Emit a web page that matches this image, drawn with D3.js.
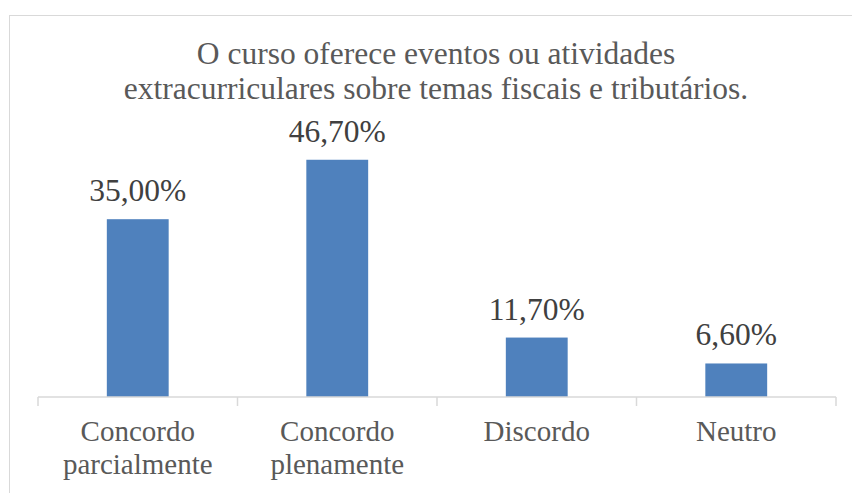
<!DOCTYPE html>
<html>
<head>
<meta charset="utf-8">
<script src="https://cdn.jsdelivr.net/npm/d3@7"></script>
<style>
  body { margin: 0; background: #fff; }
  svg text { font-family: "Liberation Serif", "Times New Roman", serif; }
</style>
</head>
<body>
<div id="chart"></div>
<script>
const categories = ["Concordo parcialmente", "Concordo plenamente", "Discordo", "Neutro"];
const values = [35.0, 46.7, 11.7, 6.6];
const titleLines = ["O curso oferece eventos ou atividades", "extracurriculares sobre temas fiscais e tributários."];

const width = 852, height = 493;
const margin = { top: 143, bottom: 96, left: 38, right: 16 };

const svg = d3.select("#chart").append("svg")
  .attr("width", width)
  .attr("height", height);

// chart frame
svg.append("rect")
  .attr("x", 9.5).attr("y", 15.5)
  .attr("width", 900).attr("height", 520)
  .attr("fill", "#fff")
  .attr("stroke", "#d9d9d9");

const x = d3.scaleBand()
  .domain(categories)
  .range([margin.left, width - margin.right])
  .paddingInner(0.69).paddingOuter(0.345);

const xAxisScale = d3.scaleBand()
  .domain(categories)
  .range([margin.left, width - margin.right]);

const y = d3.scaleLinear()
  .domain([0, 50])
  .range([height - margin.bottom, margin.top]);

// title
svg.append("text")
  .attr("x", 436).attr("y", 64)
  .attr("text-anchor", "middle")
  .attr("fill", "#595959")
  .attr("font-size", 31.5)
  .selectAll("tspan")
  .data(titleLines)
  .join("tspan")
  .attr("x", 436)
  .attr("dy", (d, i) => i ? 35 : 0)
  .text(d => d);

// bars
svg.selectAll("rect.bar")
  .data(values)
  .join("rect")
  .attr("class", "bar")
  .attr("x", (d, i) => x(categories[i]))
  .attr("width", x.bandwidth())
  .attr("y", d => y(d))
  .attr("height", d => y(0) - y(d))
  .attr("fill", "#4f81bd");

// axis
const axis = svg.append("g")
  .attr("transform", `translate(0,${y(0)})`);
axis.append("line")
  .attr("x1", margin.left).attr("x2", width - margin.right)
  .attr("stroke", "#d9d9d9").attr("stroke-width", 1.5);
axis.selectAll("line.tick")
  .data(categories.map(c => xAxisScale(c)).concat([width - margin.right]))
  .join("line")
  .attr("class", "tick")
  .attr("x1", d => d).attr("x2", d => d)
  .attr("y1", 0).attr("y2", 9)
  .attr("stroke", "#d9d9d9").attr("stroke-width", 1.5);

// category labels, wrapped one word per line
axis.selectAll("text.cat")
  .data(categories)
  .join("text")
  .attr("class", "cat")
  .attr("text-anchor", "middle")
  .attr("fill", "#595959")
  .attr("font-size", 29)
  .attr("y", 44)
  .each(function(d) {
    const cx = xAxisScale(d) + xAxisScale.bandwidth() / 2;
    d3.select(this).selectAll("tspan")
      .data(d.split(" "))
      .join("tspan")
      .attr("x", cx)
      .attr("dy", (w, i) => i ? 33 : 0)
      .text(w => w);
  });

// data labels
svg.selectAll("text.val")
  .data(values)
  .join("text")
  .attr("class", "val")
  .attr("text-anchor", "middle")
  .attr("fill", "#404040")
  .attr("font-size", 31.5)
  .attr("x", (d, i) => x(categories[i]) + x.bandwidth() / 2)
  .attr("y", d => y(d) - 18)
  .text(d => d.toFixed(2).replace(".", ",") + "%");
</script>
</body>
</html>
